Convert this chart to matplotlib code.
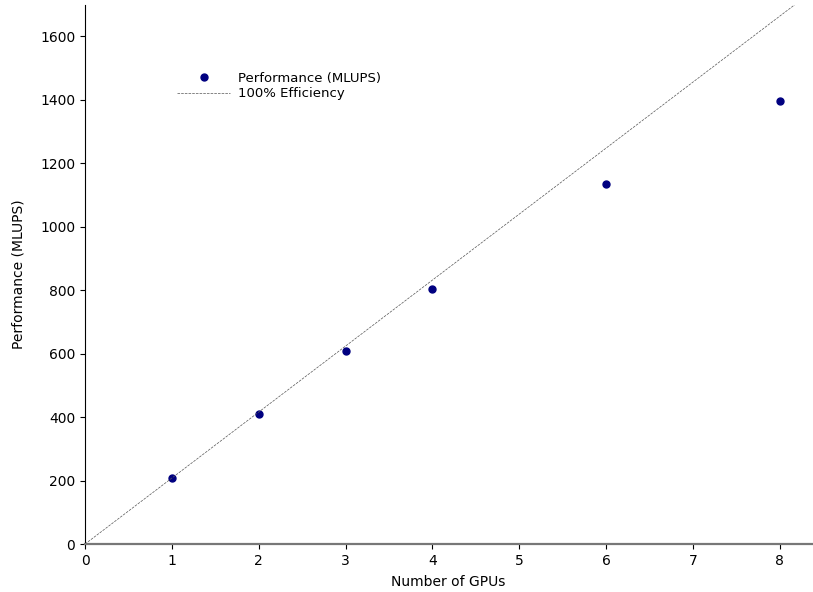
import numpy as np
import matplotlib.pyplot as plt

gpus = [1, 2, 3, 4, 6, 8]
mlups = [208, 410, 610, 803, 1135, 1398]
ideal_x = [0, 9]
per_gpu = 208

fig = plt.figure(figsize=(8.13, 5.92), dpi=100)
ax = fig.add_axes([0.1046, 0.081, 0.894, 0.911])

ax.plot(gpus, mlups, 'o', color='#000080', markersize=5, label='Performance (MLUPS)')
ax.plot(ideal_x, [per_gpu * v for v in ideal_x], '--', color='#555555', linewidth=0.5,
        label='100% Efficiency')

ax.set_xlim(0, 8.37)
ax.set_ylim(0, 1700)
ax.set_xticks(range(9))
ax.set_xlabel('Number of GPUs', labelpad=5.5)
ax.set_ylabel('Performance (MLUPS)', labelpad=10.5)
ax.spines['top'].set_visible(False)
ax.spines['right'].set_visible(False)
ax.spines['bottom'].set_color('#777777')
ax.spines['bottom'].set_linewidth(1.6)
ax.legend(frameon=False, loc='upper left', bbox_to_anchor=(0.11, 0.898),
          fontsize=9.5, handlelength=4.05, handletextpad=0.6, labelspacing=0.2)

fig.savefig('out.png')
